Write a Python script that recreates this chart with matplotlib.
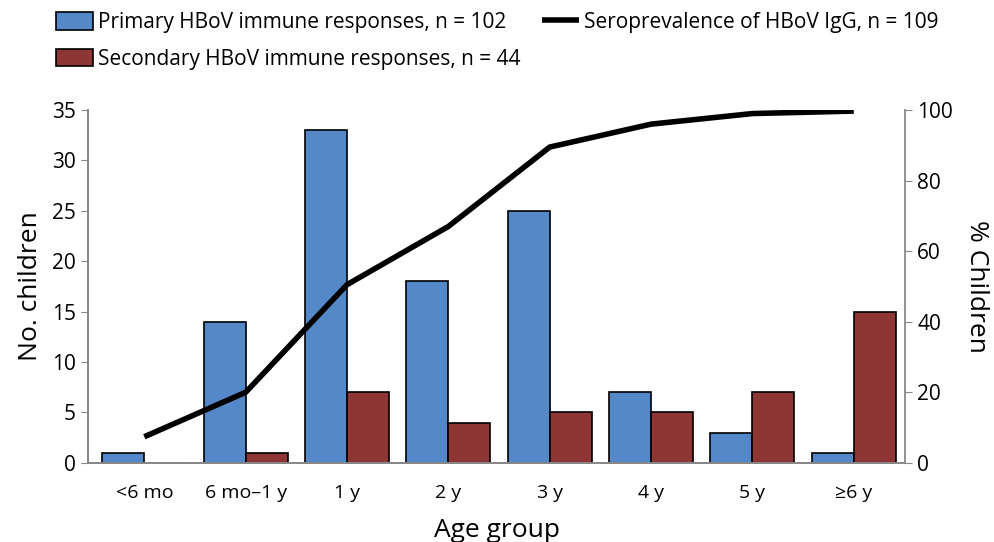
import numpy as np
import matplotlib.pyplot as plt

plt.rcParams['font.family'] = ['Open Sans', 'DejaVu Sans']

age_groups = ["<6 mo", "6 mo\u20131 y", "1 y", "2 y", "3 y", "4 y", "5 y", "\u22656 y"]
primary = [1, 14, 33, 18, 25, 7, 3, 1]
secondary = [0, 1, 7, 4, 5, 5, 7, 15]
seroprev = [7.4, 20, 50.5, 67, 89.5, 96, 99, 99.7]

blue = "#5588c9"
red = "#8e3535"
grey = "#888888"

fig = plt.figure(figsize=(9.95, 5.42), dpi=100)
ax = fig.add_axes([0.088, 0.146, 0.822, 0.651])
ax2 = ax.twinx()

x = np.arange(len(age_groups))
w = 0.415
b1 = ax.bar(x - w / 2, primary, w, color=blue, edgecolor="black", linewidth=1.2)
b2 = ax.bar(x + w / 2, secondary, w, color=red, edgecolor="black", linewidth=1.2)
ln, = ax2.plot(x, seroprev, color="black", linewidth=4, solid_capstyle="butt")

ax.set_xlim(-0.56, 7.51)
ax.set_ylim(0, 35)
ax2.set_ylim(0, 100)
ax.set_yticks(range(0, 36, 5))
ax2.set_yticks(range(0, 101, 20))
ax.set_xticks(x)
ax.set_xticklabels(age_groups, fontsize=14)
ax.tick_params(axis="x", length=0, pad=15)
ax.tick_params(axis="y", labelsize=15, color=grey, length=5)
ax2.tick_params(axis="y", labelsize=15, color=grey, length=5)

for a in (ax, ax2):
    a.spines["top"].set_visible(False)
    for s in ("left", "right", "bottom"):
        a.spines[s].set_color(grey)
        a.spines[s].set_linewidth(1.3)
ax.spines["right"].set_visible(False)

ax.set_ylabel("No. children", fontsize=19, labelpad=6)
ax2.set_ylabel("% Children", fontsize=19, rotation=270, labelpad=26)
ax.set_xlabel("Age group", fontsize=19, labelpad=12)

fig.legend([b1, b2, ln],
           ["Primary HBoV immune responses, n = 102",
            "Secondary HBoV immune responses, n = 44",
            "Seroprevalence of HBoV IgG, n = 109"],
           ncol=2, loc="upper left", bbox_to_anchor=(0.037, 1.012), frameon=False,
           fontsize=15, handlelength=1.8, handleheight=0.9, handletextpad=0.25,
           columnspacing=1.0, labelspacing=0.75)

fig.savefig("out.png", dpi=100)
